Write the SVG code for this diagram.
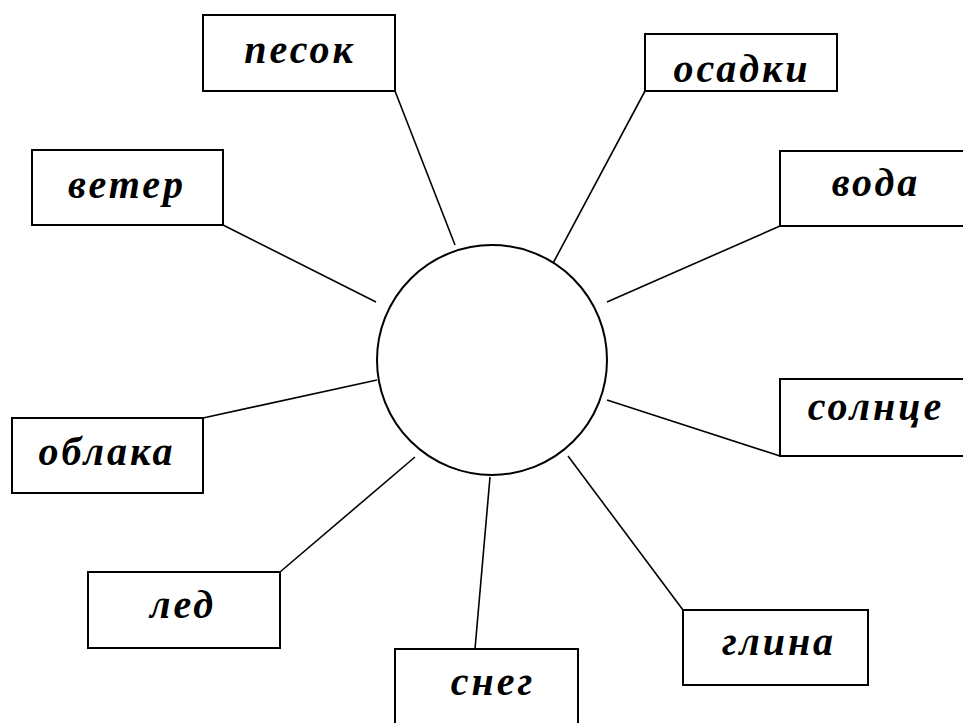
<svg xmlns="http://www.w3.org/2000/svg" width="963" height="723" viewBox="0 0 963 723">
<style>
.box{fill:#fff;stroke:#000;stroke-width:2}
.lbl{font-family:"Liberation Serif","Times New Roman",serif;font-weight:bold;font-style:italic;font-size:40px;letter-spacing:3px;text-anchor:middle;fill:#000}
.con line{stroke:#000;stroke-width:1.6}
</style>
<rect width="963" height="723" fill="#fff"/>
<g id="connectors" class="con">
<line x1="395" y1="91" x2="455" y2="245"/>
<line x1="645" y1="91" x2="551" y2="267"/>
<line x1="223" y1="225" x2="376" y2="302"/>
<line x1="780" y1="226" x2="607" y2="302"/>
<line x1="203" y1="418" x2="377" y2="380"/>
<line x1="780" y1="456" x2="607" y2="400"/>
<line x1="280" y1="572" x2="415" y2="457"/>
<line x1="475" y1="649" x2="490" y2="477"/>
<line x1="683" y1="610" x2="568" y2="456"/>
</g>
<g id="center"><circle cx="492" cy="360" r="115" fill="#fff" stroke="#000" stroke-width="2"/></g>
<g id="pesok"><rect class="box" x="203" y="15" width="192" height="76"/><text class="lbl" x="300" y="63">песок</text></g>
<g id="osadki"><rect class="box" x="645" y="34" width="192" height="57"/><text class="lbl" x="742" y="82">осадки</text></g>
<g id="veter"><rect class="box" x="32" y="150" width="191" height="75"/><text class="lbl" x="127" y="198">ветер</text></g>
<g id="voda"><rect class="box" x="780" y="151" width="200" height="75"/><text class="lbl" x="876" y="196">вода</text></g>
<g id="solnce"><rect class="box" x="780" y="379" width="200" height="77"/><text class="lbl" x="876" y="420">солнце</text></g>
<g id="oblaka"><rect class="box" x="12" y="418" width="191" height="75"/><text class="lbl" x="107" y="465">облака</text></g>
<g id="led"><rect class="box" x="88" y="572" width="192" height="76"/><text class="lbl" x="183" y="618">лед</text></g>
<g id="sneg"><rect class="box" x="395" y="649" width="183" height="90"/><text class="lbl" x="493" y="695">снег</text></g>
<g id="glina"><rect class="box" x="683" y="610" width="185" height="75"/><text class="lbl" x="779" y="655">глина</text></g>
</svg>
